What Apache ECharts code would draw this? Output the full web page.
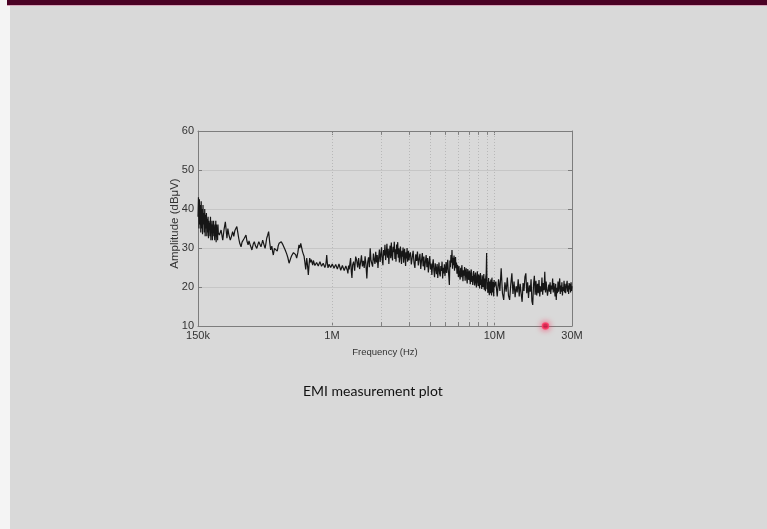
<!DOCTYPE html>
<html>
<head>
<meta charset="utf-8">
<script src="https://cdn.jsdelivr.net/npm/echarts@6.0.0/dist/echarts.min.js"></script>
<style>
  html, body { margin: 0; padding: 0; width: 767px; height: 529px; overflow: hidden; background: #d9d9d9; }
  #strip { position: absolute; left: 0; top: 0; width: 10px; height: 529px; background: #f4f4f4; }
  #topbar { position: absolute; left: 7px; top: 0; width: 760px; height: 5px; background: #4a0124; border-bottom: 1px solid #d6a3b9; }
  #chart { position: absolute; left: 0; top: 0; width: 767px; height: 529px; }
</style>
</head>
<body>
<div id="strip"></div>
<div id="topbar"></div>
<div id="chart"></div>
<script>
// ---- data (frequency in MHz, amplitude in dBuV) ----
const freqA = [0.150,0.151,0.152,0.153,0.154,0.155,0.156,0.157,0.158,0.159,0.160,0.161,0.162,0.163,0.164,0.165,0.166,0.167,0.168,0.169,0.170,0.171,0.172,0.173,0.174,0.175,0.176,0.177,0.178,0.179,0.180,0.181,0.182,0.183,0.184,0.185,0.186,0.187,0.188,0.189,0.190,0.191,0.192,0.193,0.194,0.195,0.196,0.197,0.198,0.199,0.200];
const ampA = [38,43,35,42.5,36,41,34,42,35,40,33.5,41,36,39,34,40,33,38.5,35,39,33,37.5,34,38,32.5,37,35,36.5,33,38,32,36,34,37,32,36,33,37,34,35.5,32,36,33,37,31.5,36,34,35,32,36,34];

const freqB = [0.203,0.208,0.213,0.217,0.221,0.226,0.229,0.232,0.237,0.241,0.245,0.249,0.253,0.260,0.264,0.267,0.271,0.276,0.280,0.283,0.289,0.296,0.300,0.305,0.309,0.313,0.318,0.322,0.328,0.333,0.339,0.345,0.350,0.355,0.360,0.366,0.371,0.375,0.381,0.388,0.392,0.397,0.402,0.408,0.414,0.420,0.427,0.432,0.436,0.443,0.449,0.455,0.461,0.467,0.473,0.480,0.488,0.497,0.507,0.516,0.527,0.536,0.545,0.552,0.558,0.565,0.571,0.580,0.590,0.598,0.607,0.617,0.627,0.635,0.643,0.650,0.658,0.666,0.674,0.681,0.690,0.695,0.700,0.708,0.716,0.723,0.730,0.738,0.747,0.755,0.762,0.769,0.776,0.786,0.795,0.805,0.814,0.824,0.833,0.844,0.854,0.863,0.873,0.884,0.894,0.905,0.916,0.923,0.929,0.937,0.946,0.960,0.974,0.983,0.992,1.005,1.020,1.030,1.039,1.055,1.069,1.080,1.089,1.105,1.120,1.133,1.147,1.160,1.174,1.190,1.202,1.218,1.232,1.245,1.254,1.266,1.278,1.290,1.303,1.316,1.328,1.340];
const ampB = [33.3,34.6,32,34.8,36.7,32.5,35,33.5,32,33,34.2,33,34.5,35.5,33.8,32.5,31.2,30.3,31.5,31,32.5,33.3,31.8,30.8,31.8,31,30.2,29.5,31,31.6,30.5,29.9,30.8,31.6,31,30.3,31.2,32,31,29.9,31,32.5,33.2,34.2,31.5,29.5,30.5,29,28.2,29.9,29.4,30.2,29.2,30.5,31.2,30.8,31.6,31,30.6,29.5,28.5,27.5,26.1,26.8,27.4,28,28.4,28.8,29.2,28.3,27.4,28.8,30.8,30,31.2,30.3,29.2,28.5,27.9,26.5,24.5,26,27.4,25.5,23.1,25.6,27.4,26.3,27,26.2,25.6,26.8,26.5,25.5,25.2,26.3,26.5,25.4,25.2,26.5,26.1,25.3,24.9,26.1,26.5,25,25.6,26.7,28.2,26.2,24.9,25.8,26.1,25,24.9,25.9,25.6,24.8,24.5,25.8,25.6,24.6,24.9,25.9,25.6,24.3,24.5,25.5,25.2,24.2,23.9,25.4,25.2,24.2,23.5,25.5,24.5,26,27.4,24,22.3,25.6];

const freqC = [1.36,1.38,1.40,1.42,1.44,1.46,1.48,1.50,1.52,1.54,1.56,1.58,1.60,1.62,1.64,1.66,1.68,1.70,1.72,1.74,1.76,1.78,1.80,1.82,1.84,1.86,1.88,1.90,1.92,1.94,1.96,1.98,2.00,2.02,2.04,2.06,2.08,2.10,2.12,2.14,2.16,2.18,2.20,2.22,2.24,2.26,2.28,2.30,2.32,2.34,2.36,2.38,2.40,2.42,2.44,2.46,2.48,2.50,2.52,2.54,2.56,2.58,2.60,2.62,2.64,2.66,2.68,2.70,2.72,2.74,2.76,2.78,2.80,2.82,2.84,2.86,2.88,2.90,2.92,2.94,2.96,2.98,3.00];
const ampC = [26.5,24.2,27.8,26.9,25,27.4,24.6,26.2,28.1,25.3,26.7,24.9,27.9,25.8,22.2,26.4,27.6,25.1,29.9,26.8,27.3,25.2,28.6,27.1,25.9,29,26.3,28.2,24.9,27.6,29.6,26.4,28.3,30.2,27.1,25.6,29.5,28.1,30.8,26.9,28.7,31.1,27.5,29.8,25.9,28.9,30.6,27.4,31.4,28.3,26.8,30.3,28.9,31.6,27.2,29.7,26.5,30.9,28.4,31.5,27.5,29.9,26.3,28.8,30.4,27.6,25.9,29.3,27.8,30.1,26.2,28.7,29.8,27.1,25.4,28.9,27.3,30,26.5,28.2,29.3,26.8,27.9];

const freqD = [3.04,3.08,3.12,3.16,3.2,3.24,3.28,3.32,3.36,3.4,3.44,3.48,3.52,3.56,3.6,3.64,3.68,3.72,3.76,3.8,3.84,3.88,3.92,3.96,4,4.04,4.08,4.12,4.16,4.2,4.24,4.28,4.32,4.36,4.4,4.44,4.48,4.52,4.56,4.6,4.64,4.68,4.72,4.76,4.8,4.84,4.88,4.92,4.96,5,5.04,5.08,5.12,5.16,5.2,5.24,5.28,5.32,5.36,5.4,5.44,5.48,5.52,5.56,5.6,5.64,5.68,5.72,5.76,5.8,5.84,5.88,5.92,5.96,6];
const ampD = [28.9,25.8,27.6,29.3,26.2,24.9,28.4,26.7,29.1,25.5,27.2,28.5,24.6,26.9,28.7,25.3,27.8,24.3,26.5,28.2,25.1,27.4,23.7,26.3,27.9,24.5,26,23.1,25.6,27.1,24.2,22.5,26.1,24.8,23.3,25.9,22.3,24.6,26.3,23.4,22.7,25.4,24.1,26.5,22.2,24.9,23.5,25.8,22.8,24.4,26.4,23.6,25.2,27,24.3,22.6,20.5,26.8,25.1,28.2,26.2,29.5,24.7,27.5,25.6,28.1,24.2,26.9,27.7,24.8,26.3,23.4,25.7,24.5,22.6];

const freqE = [6.05,6.1,6.15,6.2,6.25,6.3,6.35,6.4,6.45,6.5,6.55,6.6,6.65,6.7,6.75,6.8,6.85,6.9,6.95,7,7.05,7.1,7.15,7.2,7.25,7.3,7.35,7.4,7.45,7.5,7.55,7.6,7.65,7.7,7.75,7.8,7.85,7.9,7.95,8,8.05,8.1,8.15,8.2,8.25,8.3,8.35,8.4,8.45,8.5,8.55,8.6,8.65,8.7,8.75,8.8,8.85,8.9,8.95,9,9.05,9.1,9.15,9.2,9.25,9.3,9.35,9.4,9.45,9.5,9.55,9.6,9.65,9.7,9.75,9.8,9.85,9.9,9.95,10];
const ampE = [25.4,23.1,21.9,24.9,22.5,25.6,23.8,21.5,24.3,22.9,25.1,21.6,23.7,24.8,22.1,20.9,24.6,23,21.8,24.2,22.4,20.7,23.9,24.5,21.3,22.8,20.5,23.5,24.1,21.6,20.4,22.9,23.7,21,19.9,22.6,24,21.5,20.3,23.2,21.8,19.6,22.7,23.6,20.5,21.9,19.5,23,22.1,20,21.5,23.3,19.3,22.2,20.6,18.9,22.6,23.4,28.7,19.4,21.2,18.5,20.6,22.3,19.1,17.9,21.4,20.3,18.4,21.9,19.5,17.8,22.4,20.1,18.6,21.3,19.4,17.6,21.8,20];

const freqF = [10.2,10.4,10.6,10.8,11,11.2,11.4,11.6,11.8,12,12.2,12.4,12.6,12.8,13,13.2,13.4,13.6,13.8,14,14.2,14.4,14.6,14.8,15,15.2,15.4,15.6,15.8,16,16.2,16.4,16.6,16.8,17,17.2,17.4,17.6,17.8,18,18.2,18.4,18.6,18.8,19,19.2,19.4,19.6,19.8,20,20.2,20.4,20.6,20.8,21,21.2,21.4,21.6,21.8,22,22.2,22.4,22.6,22.8,23,23.2,23.4,23.6,23.8,24,24.2,24.4,24.6,24.8,25,25.2,25.4,25.6,25.8,26,26.2,26.4,26.6,26.8,27,27.2,27.4,27.6,27.8,28,28.2,28.4,28.6,28.8,29,29.2,29.4,29.6,29.8,30];
const ampF = [21.4,17.6,22,19,24.8,18.4,16.7,21.2,18.8,22.4,17.8,16.7,20.6,23.5,18.2,21.4,17.4,20.2,18.6,22,17.6,20.8,18.2,16.2,21,19,22.6,23.5,18.4,21.2,17.2,20.4,18.8,22,16.4,15.4,20.6,22.9,18,21.6,17.8,20.8,18.4,21.8,17.6,20.2,18.8,22.4,18,21,19.2,23.9,18.6,21.4,19.4,17.8,17.3,20.6,18.8,21.2,18.2,20.4,19.4,22.2,18.6,21,19.6,17.6,20.8,16.7,19.8,18.4,21.4,18.8,20.6,22.2,18.2,20.4,18.8,21.2,17.8,20,19,21.6,18.6,20.8,18.4,19.6,20.6,21.6,18.8,20.4,18.2,21,19.4,20.8,18.6,21.2,19,20.2];

// cursor marker
const markerFreq = [20.6];
const markerAmp = [10];

// axes
const xMin = 0.15, xMax = 30;
const yMin = 10, yMax = 60, yStep = 10;
const xTickLabels = { '0.15': '150k', '1': '1M', '10': '10M', '30': '30M' };
const majorGridFreqs = [1, 10];
const minorGridFreqs = [2, 3, 4, 5, 6, 7, 8, 9];

// ---- build ----
function pairs(f, a) {
  const n = Math.min(f.length, a.length), out = [];
  for (let i = 0; i < n; i++) out.push([f[i], a[i]]);
  return out;
}
const trace = [].concat(
  pairs(freqA, ampA), pairs(freqB, ampB), pairs(freqC, ampC),
  pairs(freqD, ampD), pairs(freqE, ampE), pairs(freqF, ampF)
);

const gridStyle = { type: [1, 2], color: '#b8b8b8', width: 1 };
const tickStyle = { type: 'solid', color: '#808080', width: 1 };
const mlData = [];
majorGridFreqs.concat(minorGridFreqs).forEach(f => {
  mlData.push({ xAxis: f, lineStyle: gridStyle });
});
minorGridFreqs.forEach(f => {
  mlData.push([{ coord: [f, yMin], lineStyle: tickStyle }, { coord: [f, yMin + 1] }]);
  mlData.push([{ coord: [f, yMax - 1], lineStyle: tickStyle }, { coord: [f, yMax] }]);
});

const FONT = 'Liberation Sans';
const chart = echarts.init(document.getElementById('chart'), null, { renderer: 'canvas' });
chart.setOption({
  animation: false,
  backgroundColor: 'transparent',
  title: {
    text: 'EMI measurement plot',
    left: 298, top: 379,
    textStyle: { fontFamily: 'Lato', fontSize: 14, fontWeight: 'normal', color: '#111' }
  },
  grid: { left: 198, top: 131, width: 374, height: 195, containLabel: false },
  xAxis: [{
    type: 'log', logBase: 10, min: xMin, max: xMax, position: 'bottom',
    axisLine: { show: true, lineStyle: { color: '#7d7d7d', width: 1 } },
    axisTick: { show: true, inside: true, length: 4, lineStyle: { color: '#7d7d7d' } },
    minorTick: { show: false },
    splitLine: { show: false },
    axisLabel: {
      showMinLabel: true, showMaxLabel: true, margin: 4,
      fontFamily: FONT, fontSize: 11, color: '#333',
      formatter: v => { const k = String(+(+v).toPrecision(3)); return xTickLabels[k] !== undefined ? xTickLabels[k] : ''; }
    },
    name: 'Frequency (Hz)', nameLocation: 'middle', nameGap: 21,
    nameTextStyle: { fontFamily: FONT, fontSize: 9.5, color: '#333' }
  }, {
    type: 'log', logBase: 10, min: xMin, max: xMax, position: 'top',
    axisLine: { show: true, lineStyle: { color: '#7d7d7d', width: 1 } },
    axisTick: { show: true, inside: true, length: 4, lineStyle: { color: '#7d7d7d' } },
    axisLabel: { show: false }, splitLine: { show: false }
  }],
  yAxis: [{
    type: 'value', min: yMin, max: yMax, interval: yStep, position: 'left',
    axisLine: { show: true, lineStyle: { color: '#7d7d7d', width: 1 } },
    axisTick: { show: true, inside: true, length: 4, lineStyle: { color: '#7d7d7d' } },
    splitLine: { show: true, lineStyle: { color: '#c6c6c6', width: 1 } },
    axisLabel: { margin: 4, fontFamily: FONT, fontSize: 11, color: '#333' },
    name: 'Amplitude (dB\u03bcV)', nameLocation: 'middle', nameGap: 17, nameRotate: 90,
    nameMoveOverlap: false,
    nameTextStyle: { fontFamily: FONT, fontSize: 11.5, color: '#333', padding: [0, 0, 0, 10] }
  }, {
    type: 'value', min: yMin, max: yMax, interval: yStep, position: 'right',
    axisLine: { show: true, lineStyle: { color: '#7d7d7d', width: 1 } },
    axisTick: { show: true, inside: true, length: 4, lineStyle: { color: '#7d7d7d' } },
    splitLine: { show: false }, axisLabel: { show: false }
  }],
  series: [{
    type: 'line', xAxisIndex: 0, yAxisIndex: 0,
    data: trace, showSymbol: false, symbol: 'none', z: 3,
    lineStyle: { color: '#161616', width: 1.2 },
    markLine: { silent: true, symbol: ['none', 'none'], label: { show: false }, z: 1, animation: false, data: mlData }
  }, {
    type: 'scatter', xAxisIndex: 0, yAxisIndex: 0, clip: false, z: 5,
    data: pairs(markerFreq, markerAmp), symbolSize: 6,
    itemStyle: { color: '#c0103a', borderColor: '#ff3a66', borderWidth: 1.5, shadowBlur: 6, shadowColor: 'rgba(255,30,80,0.9)' }
  }]
});
</script>
</body>
</html>
